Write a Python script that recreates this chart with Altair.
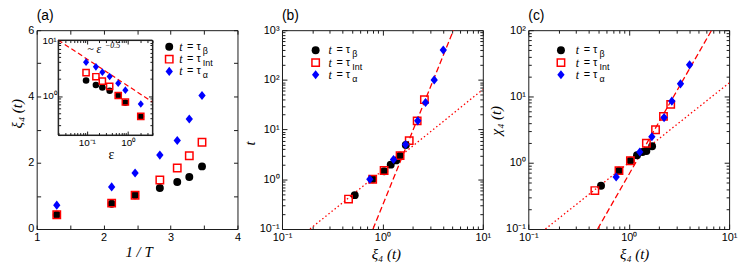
import altair as alt
import pandas as pd

# ---------------- data ----------------
inv_T = [1.30, 2.12, 2.47, 2.84, 3.10, 3.28, 3.47]
xi_a_beta = [0.43, 0.76, 1.02, 1.24, 1.42, 1.57, 1.89]
xi_a_int = [0.43, 0.78, 1.02, 1.48, 1.84, 2.21, 2.62]
xi_a_alpha = [0.72, 1.27, 1.69, 2.23, 2.67, 3.32, 4.03]
epsilon = [2.08, 0.875, 0.585, 0.362, 0.24, 0.167, 0.096]
inset_fit_eps = [0.02, 4.0]
inset_fit_xi = [10.0, 0.78]

xi_beta = [0.53, 0.80, 1.04, 1.21, 1.37, 1.50, 1.71]
xi_int = [0.46, 0.80, 1.04, 1.50, 1.85, 2.22, 2.62]
xi_alpha = [0.75, 1.29, 1.70, 2.25, 2.69, 3.28, 4.04]
t_beta = [0.48, 1.0, 1.45, 1.97, 2.4, 3.0, 4.9]
t_int = [0.40, 1.0, 1.5, 3.0, 6.0, 15.0, 40.0]
t_alpha = [1.0, 2.5, 5.0, 15.0, 35.0, 100.0, 400.0]
chi_beta = [0.45, 0.76, 1.07, 1.30, 1.45, 1.50, 1.77]
chi_int = [0.38, 0.76, 1.07, 1.97, 3.15, 5.0, 7.6]
chi_alpha = [0.61, 1.45, 2.47, 4.8, 8.5, 15.5, 30.0]

b_dot_xi, b_dot_t = [0.19, 10.0], [0.1, 64.0]
b_dash_xi, b_dash_t = [0.806, 5.1], [0.1, 1000.0]
c_dot_xi, c_dot_chi = [0.148, 10.0], [0.1, 16.0]
c_dash_xi, c_dash_chi = [0.49, 6.7], [0.1, 100.0]

series_keys = ["beta", "int", "alpha"]
series_subs = ["β", "Int", "α"]
panel_titles = ["(a)", "(b)", "(c)"]

# ---------------- layout / style ----------------
SANS = "Liberation Sans"
SERIF = "Liberation Serif"
INK = "#1a1a1a"
CW, CH = 739, 261
Y0, Y1 = 21, 222
PW = 203
AX, BX, CX = 29, 277, 526
IX0, IX1, IY0, IY1 = 50.7, 146, 31, 127
DIAMOND = "M0,-1L0.8,0L0,1L-0.8,0Z"
MK = {
    "beta": dict(shape="circle", filled=True, color="black", size=64),
    "int": dict(shape="square", filled=False, color="#ff0000", size=56, strokeWidth=1.5),
    "alpha": dict(shape=DIAMOND, filled=True, color="#0000ff", size=85),
}
LOGLAB = ("datum.value < 0.05 ? '10⁻²' : datum.value < 0.5 ? '10⁻¹' : datum.value < 5 ? '10⁰' : "
          "datum.value < 50 ? '10¹' : datum.value < 500 ? '10²' : '10³'")


def decades(lo, hi):
    return [round(10.0 ** e, 10) for e in range(lo, hi + 1)]


def minors(lo, hi, vmin, vmax):
    vals = [round(m * 10.0 ** e, 10) for e in range(lo, hi) for m in range(2, 10)]
    return [v for v in vals if vmin <= v <= vmax]


def sc(dom, rng, log):
    if log:
        return alt.Scale(type="log", domain=dom, range=rng, nice=False)
    return alt.Scale(type="linear", domain=dom, range=rng, nice=False, zero=False)


def ghost(xdom, ydom, xsc, ysc, xaxis, yaxis):
    return alt.Chart(pd.DataFrame({"x": xdom, "y": ydom})).mark_point(opacity=0, size=1).encode(
        x=alt.X("x:Q", scale=xsc, axis=xaxis), y=alt.Y("y:Q", scale=ysc, axis=yaxis))


def tick_axis(orient, offset, vals, size, domain, z):
    return alt.Axis(orient=orient, offset=offset, values=vals, labels=False, ticks=True,
                    tickSize=size, tickColor=INK, tickWidth=1, domain=domain, domainColor=INK,
                    domainWidth=1, grid=False, title=None, zindex=z)


def frame(x0, x1, y0, y1, xdom, ydom, xlog, ylog, xmaj, xmin, ymaj, ymin, big, small, z):
    xsc = sc(xdom, [x0, x1], xlog)
    ysc = sc(ydom, [y1, y0], ylog)
    out = [
        ghost(xdom, ydom, xsc, ysc, tick_axis("top", -y1, xmaj, big, True, z),
              tick_axis("right", x0 - CW, ymaj, big, True, z)),
        ghost(xdom, ydom, xsc, ysc, tick_axis("bottom", y0 - CH, xmaj, big, True, z),
              tick_axis("left", -x1, ymaj, big, True, z)),
    ]
    if xmin or ymin:
        out.append(ghost(xdom, ydom, xsc, ysc,
                         tick_axis("top", -y1, xmin, small, False, z) if xmin else None,
                         tick_axis("right", x0 - CW, ymin, small, False, z) if ymin else None))
        out.append(ghost(xdom, ydom, xsc, ysc,
                         tick_axis("bottom", y0 - CH, xmin, small, False, z) if xmin else None,
                         tick_axis("left", -x1, ymin, small, False, z) if ymin else None))
    return out


def label_layer(x0, x1, y0, y1, xdom, ydom, xlog, ylog, xvals, yvals, xtitle, ytitle,
                xt, yt, fs=11, tfs=15, z=0, xpad=3, ypad=3, tfont=SERIF, tstyle="italic"):
    common = dict(ticks=False, domain=False, grid=False, labelFont=SANS, labelFontSize=fs,
                  labelColor="black", labelOverlap=False, labelFlush=False, zindex=z,
                  titleFont=tfont, titleFontStyle=tstyle, titleFontWeight="normal",
                  titleFontSize=tfs, titleColor="black", titleAlign="center",
                  titleBaseline="middle")
    xa = dict(common, orient="bottom", offset=y1 - CH, values=xvals, labelPadding=xpad,
              title=xtitle, titleX=xt[0], titleY=xt[1])
    ya = dict(common, orient="left", offset=-x0, values=yvals, labelPadding=ypad,
              title=ytitle, titleX=yt[0], titleY=yt[1])
    if xlog:
        xa["labelExpr"] = LOGLAB
    if ylog:
        ya["labelExpr"] = LOGLAB
    return ghost(xdom, ydom, sc(xdom, [x0, x1], xlog), sc(ydom, [y1, y0], ylog),
                 alt.Axis(**xa), alt.Axis(**ya))


def pts(xs, ys, key, xsc, ysc, k=1.0):
    opts = dict(MK[key])
    opts["size"] = opts["size"] * k
    return alt.Chart(pd.DataFrame({"x": xs, "y": ys})).mark_point(opacity=1, **opts).encode(
        x=alt.X("x:Q", scale=xsc, axis=None), y=alt.Y("y:Q", scale=ysc, axis=None))


def fit_line(xs, ys, xsc, ysc, dash, width=1.3):
    return alt.Chart(pd.DataFrame({"x": xs, "y": ys})).mark_line(
        color="#ff0000", strokeWidth=width, strokeDash=dash).encode(
        x=alt.X("x:Q", scale=xsc, axis=None), y=alt.Y("y:Q", scale=ysc, axis=None))


def txt(s, x, y, size, font=SANS, style="normal", align="left", baseline="middle"):
    return alt.Chart(pd.DataFrame({"k": [0]})).mark_text(
        text=s, font=font, fontStyle=style, fontSize=size, align=align, baseline=baseline,
        color="black").encode(x=alt.value(x), y=alt.value(y))


def sym(key, x, y):
    return alt.Chart(pd.DataFrame({"k": [0]})).mark_point(opacity=1, **MK[key]).encode(
        x=alt.value(x), y=alt.value(y))


def legend(xs, xt, rows):
    out = []
    for key, sub, yy in zip(series_keys, series_subs, rows):
        out.append(sym(key, xs, yy))
        out.append(txt("t", xt, yy, 12, SERIF, "italic"))
        out.append(txt("= τ", xt + 8, yy, 11))
        out.append(txt(sub, xt + 24, yy + 4, 9))
    return out


layers = []

# ---------------- panel (a) ----------------
a_dx, a_dy = [1, 4], [0, 6]
a_xs = sc(a_dx, [AX, AX + PW], False)
a_ys = sc(a_dy, [Y1, Y0], False)
layers += frame(AX, AX + PW, Y0, Y1, a_dx, a_dy, False, False,
                [1, 1.5, 2, 2.5, 3, 3.5, 4], [], [0, 1, 2, 3, 4, 5, 6], [], 4, 0, 0)
layers.append(label_layer(AX, AX + PW, Y0, Y1, a_dx, a_dy, False, False, [1, 2, 3, 4],
                          [0, 2, 4, 6], "1 / T", "ξ₄ (t)", (132, 23), (-20, 105)))
for key, ys in zip(series_keys, [xi_a_beta, xi_a_int, xi_a_alpha]):
    layers.append(pts(inv_T, ys, key, a_xs, a_ys))

# inset
i_dx, i_dy = [0.02, 4.0], [0.2, 10.0]
i_xs = sc(i_dx, [IX0, IX1], True)
i_ys = sc(i_dy, [IY1, IY0], True)
layers.append(alt.Chart(pd.DataFrame({"k": [0]})).mark_rect(
    fill="white", stroke=INK, strokeWidth=1).encode(
    x=alt.value(IX0), x2=alt.value(IX1), y=alt.value(IY0), y2=alt.value(IY1)))
layers.append(fit_line(inset_fit_eps, inset_fit_xi, i_xs, i_ys, [5, 3], 1.2))
for key, ys in zip(series_keys, [xi_a_beta, xi_a_int, xi_a_alpha]):
    layers.append(pts(epsilon, ys, key, i_xs, i_ys, 0.7))
layers += frame(IX0, IX1, IY0, IY1, i_dx, i_dy, True, True,
                [0.1, 1.0], minors(-2, 1, 0.02, 4.0), [1.0, 10.0], minors(-1, 1, 0.2, 10.0),
                4, 2.5, 1)
layers.append(label_layer(IX0, IX1, IY0, IY1, i_dx, i_dy, True, True, [0.1, 1.0], [1.0, 10.0],
                          "ε", None, (104, 20), (0, 0), fs=10, tfs=14, z=1, xpad=3, ypad=2,
                          tstyle="normal"))
layers.append(txt("~ ε", 80, 44, 12, SERIF, "italic", baseline="alphabetic"))
layers.append(txt("−0.5", 98, 39, 8, SERIF, "italic", baseline="alphabetic"))
layers += legend(163, 173, [37.7, 50.3, 62.7])

# ---------------- panel (b) ----------------
b_dx, b_dy = [0.1, 10.0], [0.1, 1000.0]
b_xs = sc(b_dx, [BX, BX + PW], True)
b_ys = sc(b_dy, [Y1, Y0], True)
layers += frame(BX, BX + PW, Y0, Y1, b_dx, b_dy, True, True,
                decades(-1, 1), minors(-1, 1, 0.1, 10), decades(-1, 3), minors(-1, 3, 0.1, 1000),
                5, 3, 0)
layers.append(label_layer(BX, BX + PW, Y0, Y1, b_dx, b_dy, True, True, decades(-1, 1),
                          decades(-1, 3), "ξ₄ (t)", "t", (382, 25), (-33, 135)))
layers.append(fit_line(b_dot_xi, b_dot_t, b_xs, b_ys, [1.5, 2.5]))
layers.append(fit_line(b_dash_xi, b_dash_t, b_xs, b_ys, [6, 3]))
for key, ys, xs in zip(series_keys, [t_beta, t_int, t_alpha], [xi_beta, xi_int, xi_alpha]):
    layers.append(pts(xs, ys, key, b_xs, b_ys))
layers += legend(311, 324, [41.3, 53.8, 66])

# ---------------- panel (c) ----------------
c_dx, c_dy = [0.1, 10.0], [0.1, 100.0]
c_xs = sc(c_dx, [CX, CX + PW], True)
c_ys = sc(c_dy, [Y1, Y0], True)
layers += frame(CX, CX + PW, Y0, Y1, c_dx, c_dy, True, True,
                decades(-1, 1), minors(-1, 1, 0.1, 10), decades(-1, 2), minors(-1, 2, 0.1, 100),
                5, 3, 0)
layers.append(label_layer(CX, CX + PW, Y0, Y1, c_dx, c_dy, True, True, decades(-1, 1),
                          decades(-1, 2), "ξ₄ (t)", "χ₄ (t)", (633, 25), (-33, 112)))
layers.append(fit_line(c_dot_xi, c_dot_chi, c_xs, c_ys, [1.5, 2.5]))
layers.append(fit_line(c_dash_xi, c_dash_chi, c_xs, c_ys, [6, 3]))
for key, ys, xs in zip(series_keys, [chi_beta, chi_int, chi_alpha], [xi_beta, xi_int, xi_alpha]):
    layers.append(pts(xs, ys, key, c_xs, c_ys))
layers += legend(559, 574, [41.3, 53.8, 66])

# panel titles
for title, x0 in zip(panel_titles, [AX, BX, CX]):
    layers.append(txt(title, x0, 11, 14, SANS, baseline="alphabetic"))

chart = alt.layer(*layers).resolve_scale(x="independent", y="independent").properties(
    width=CW, height=CH, autosize=alt.AutoSizeParams(type="none"), padding=0
).configure_view(stroke=None)

chart.save("out.html", embed_options={"renderer": "svg", "actions": False})
